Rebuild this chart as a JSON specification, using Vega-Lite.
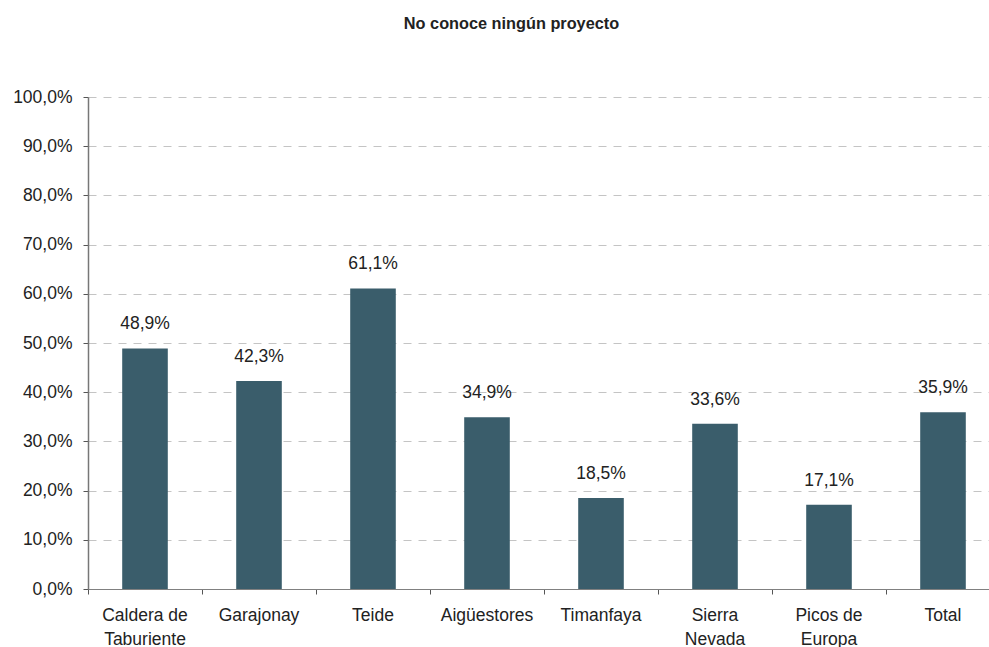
{
  "$schema": "https://vega.github.io/schema/vega-lite/v6.json",
  "width": 901,
  "height": 492,
  "autosize": "none",
  "padding": {"left": 88, "top": 97, "right": 0, "bottom": 58},
  "config": {
    "locale": {"number": {"decimal": ",", "thousands": ".", "grouping": [3], "currency": ["", " €"]}},
    "view": {"stroke": null},
    "font": "Liberation Sans"
  },
  "title": {
    "text": "No conoce ningún proyecto",
    "font": "Liberation Sans",
    "fontSize": 16.3,
    "fontWeight": "bold",
    "color": "#222222",
    "anchor": "middle",
    "baseline": "bottom",
    "dx": -27,
    "offset": 40
  },
  "data": {
    "values": [
      {"parque": "Caldera de Taburiente", "v": 0.489},
      {"parque": "Garajonay", "v": 0.423},
      {"parque": "Teide", "v": 0.611},
      {"parque": "Aigüestores", "v": 0.349},
      {"parque": "Timanfaya", "v": 0.185},
      {"parque": "Sierra Nevada", "v": 0.336},
      {"parque": "Picos de Europa", "v": 0.171},
      {"parque": "Total", "v": 0.359}
    ]
  },
  "encoding": {
    "x": {
      "field": "parque",
      "type": "nominal",
      "sort": null,
      "scale": {"paddingInner": 0, "paddingOuter": 0, "range": [0, 912]},
      "axis": {
        "title": null,
        "bandPosition": 0,
        "labelAngle": 0,
        "labelAlign": "center",
        "labelBaseline": "top",
        "labelPadding": 12,
        "labelFontSize": 17.5,
        "labelColor": "#222222",
        "labelLineHeight": 24,
        "labelBound": false,
        "labelOverlap": false,
        "labelExpr": "datum.label == 'Caldera de Taburiente' ? ['Caldera de', 'Taburiente'] : datum.label == 'Sierra Nevada' ? ['Sierra', 'Nevada'] : datum.label == 'Picos de Europa' ? ['Picos de', 'Europa'] : datum.label",
        "tickSize": 5,
        "tickColor": "#555555",
        "domainColor": "#808080",
        "grid": false
      }
    },
    "y": {
      "field": "v",
      "type": "quantitative",
      "scale": {"domain": [0, 1]},
      "axis": {
        "title": null,
        "values": [0, 0.1, 0.2, 0.3, 0.4, 0.5, 0.6, 0.7, 0.8, 0.9, 1],
        "format": ".1%",
        "labelFontSize": 17.5,
        "labelColor": "#222222",
        "labelPadding": 11,
        "tickSize": 5,
        "tickColor": "#555555",
        "domainColor": "#777777",
        "domainWidth": 1.5,
        "grid": true,
        "gridDash": [8, 7],
        "gridColor": "#c4c4c4"
      }
    }
  },
  "layer": [
    {"mark": {"type": "bar", "width": {"band": 0.4}, "color": "#3a5d6b"}},
    {
      "mark": {"type": "text", "baseline": "alphabetic", "dy": -19, "fontSize": 17.5, "color": "#222222"},
      "encoding": {"text": {"field": "v", "type": "quantitative", "format": ".1%"}}
    }
  ]
}
